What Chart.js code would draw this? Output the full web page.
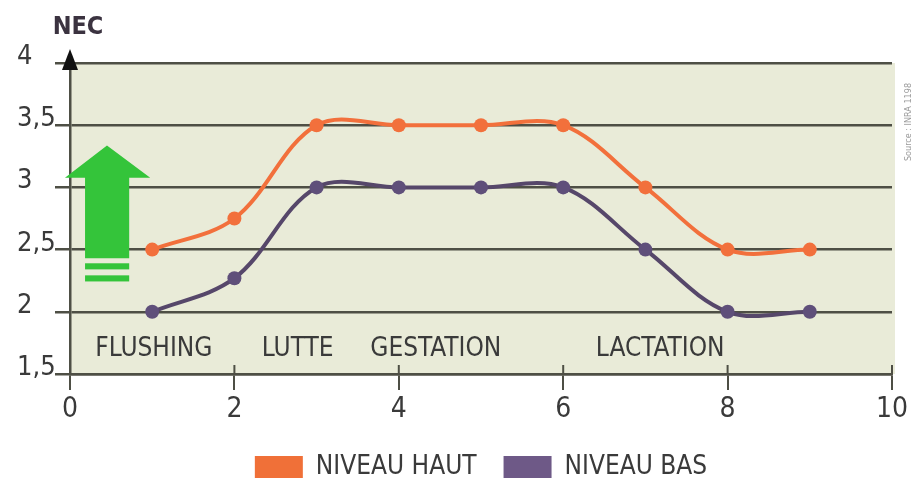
<!DOCTYPE html>
<html lang="fr">
<head>
<meta charset="UTF-8">
<title>NEC - niveau haut / niveau bas</title>
<script src="https://cdn.jsdelivr.net/npm/chart.js"></script>
<style>
  html, body { margin: 0; padding: 0; background: #fff; }
  #wrap { position: relative; width: 917px; height: 484px; }
</style>
</head>
<body>
<div id="wrap"><canvas id="necChart"></canvas></div>
<script>
// Données
const months = [1, 2, 3, 4, 5, 6, 7, 8, 9];
const niveauHaut = [2.5, 2.75, 3.5, 3.5, 3.5, 3.5, 3.0, 2.5, 2.5];
const niveauBas = [2.0, 2.27, 3.0, 3.0, 3.0, 3.0, 2.5, 2.0, 2.0];
const seriesLabels = ['NIVEAU HAUT', 'NIVEAU BAS'];
const yTicks = [1.5, 2, 2.5, 3, 3.5, 4];
const xTicks = [0, 2, 4, 6, 8, 10];
const phases = ['FLUSHING', 'LUTTE', 'GESTATION', 'LACTATION'];
const phaseX = [1.02, 2.77, 4.45, 7.18];
const phaseY = 1.70;

const FONT = "'Liberation Sans Narrow', 'DejaVu Sans Condensed', sans-serif";
const TEXT = '#3a3a3a';
const GRID = '#4e4f45';
const legendColors = ['#f07038', '#6e5987'];

// fond beige de la zone de tracé
const plotBg = {
    id: 'plotBg',
    beforeDraw(chart) {
        const { ctx, chartArea: a } = chart;
        ctx.save();
        ctx.fillStyle = '#e9ebd8';
        ctx.fillRect(a.left, a.top, a.right - a.left + 3, a.bottom - a.top);
        ctx.restore();
    }
};

// flèche verte + noms des phases
const decorations = {
    id: 'decorations',
    beforeDatasetsDraw(chart) {
        const { ctx, scales: { x, y } } = chart;
        ctx.save();
        ctx.fillStyle = '#34c43a';
        const sl = x.getPixelForValue(0.183), sr = x.getPixelForValue(0.72);
        const hl = x.getPixelForValue(-0.061), hr = x.getPixelForValue(0.976);
        const cx = x.getPixelForValue(0.45);
        ctx.beginPath();
        ctx.moveTo(cx, y.getPixelForValue(3.337));
        ctx.lineTo(hr, y.getPixelForValue(3.078));
        ctx.lineTo(sr, y.getPixelForValue(3.078));
        ctx.lineTo(sr, y.getPixelForValue(2.43));
        ctx.lineTo(sl, y.getPixelForValue(2.43));
        ctx.lineTo(sl, y.getPixelForValue(3.078));
        ctx.lineTo(hl, y.getPixelForValue(3.078));
        ctx.closePath();
        ctx.fill();
        [[2.39, 2.341], [2.293, 2.244]].forEach(([t, b]) => {
            const yt = y.getPixelForValue(t), yb = y.getPixelForValue(b);
            ctx.fillRect(sl, yt, sr - sl, yb - yt);
        });

        // petits traits des graduations X au-dessus de l'axe
        ctx.strokeStyle = GRID;
        ctx.lineWidth = 2;
        xTicks.slice(1).forEach(v => {
            const px = x.getPixelForValue(v);
            ctx.beginPath();
            ctx.moveTo(px, y.bottom - 9);
            ctx.lineTo(px, y.bottom);
            ctx.stroke();
        });

        ctx.fillStyle = TEXT;
        ctx.font = '26px ' + FONT;
        ctx.textAlign = 'center';
        ctx.textBaseline = 'middle';
        phases.forEach((p, i) => {
            ctx.fillText(p, x.getPixelForValue(phaseX[i]), y.getPixelForValue(phaseY));
        });
        ctx.restore();
    },
    afterDraw(chart) {
        const { ctx, chartArea: a } = chart;
        ctx.save();
        // pointe de flèche de l'axe Y
        ctx.fillStyle = '#111';
        ctx.beginPath();
        ctx.moveTo(a.left, a.top - 14);
        ctx.lineTo(a.left + 8, a.top + 7);
        ctx.lineTo(a.left - 8, a.top + 7);
        ctx.closePath();
        ctx.fill();
        // titre de l'axe
        ctx.fillStyle = '#3b3340';
        ctx.font = 'bold 25px ' + FONT;
        ctx.textAlign = 'center';
        ctx.textBaseline = 'middle';
        ctx.fillText('NEC', a.left + 8, 27);
        // source
        ctx.translate(909, 122);
        ctx.rotate(-Math.PI / 2);
        ctx.fillStyle = '#9a9a9a';
        ctx.font = '9px ' + FONT;
        ctx.fillText('Source : INRA 1198', 0, 0);
        ctx.restore();
    }
};

new Chart(document.getElementById('necChart'), {
    type: 'line',
    data: {
        datasets: [
            {
                label: seriesLabels[0],
                data: months.map((m, i) => ({ x: m, y: niveauHaut[i] })),
                borderColor: '#f2703c',
                backgroundColor: legendColors[0],
                borderWidth: 4,
                tension: 0.35,
                pointRadius: 7,
                pointBackgroundColor: '#f2703c',
                pointBorderWidth: 0,
                fill: false
            },
            {
                label: seriesLabels[1],
                data: months.map((m, i) => ({ x: m, y: niveauBas[i] })),
                borderColor: '#56476a',
                backgroundColor: legendColors[1],
                borderWidth: 4,
                tension: 0.35,
                pointRadius: 7,
                pointBackgroundColor: '#5f4f7a',
                pointBorderWidth: 0,
                fill: false
            }
        ]
    },
    options: {
        responsive: true,
        maintainAspectRatio: false,
        animation: false,
        layout: { padding: { left: 17, right: 25, top: 63, bottom: -6 } },
        scales: {
            x: {
                type: 'linear',
                min: xTicks[0],
                max: xTicks[xTicks.length - 1],
                afterBuildTicks: s => { s.ticks = xTicks.map(v => ({ value: v })); },
                afterFit: s => { s.height = 53; },
                grid: { drawOnChartArea: false, drawTicks: true, tickLength: 16, color: GRID, lineWidth: 2 },
                border: { display: true, color: GRID, width: 2.5 },
                ticks: { padding: 3, color: TEXT, font: { family: FONT, size: 28 } }
            },
            y: {
                min: yTicks[0],
                max: yTicks[yTicks.length - 1],
                afterBuildTicks: s => { s.ticks = yTicks.map(v => ({ value: v })); },
                afterFit: s => { s.width = 53; },
                grid: { color: GRID, lineWidth: 2.5, tickLength: 15 },
                border: { display: true, color: GRID, width: 2.5 },
                ticks: {
                    crossAlign: 'far',
                    autoSkip: false,
                    color: TEXT,
                    font: { family: FONT, size: 27, lineHeight: 0.45 },
                    callback: v => [String(v).replace('.', ','), '']
                }
            }
        },
        plugins: {
            tooltip: { enabled: false },
            legend: {
                position: 'bottom',
                fullSize: false,
                labels: {
                    color: TEXT,
                    font: { family: FONT, size: 26 },
                    boxWidth: 48,
                    boxHeight: 22,
                    padding: 27,
                    generateLabels: chart => Chart.defaults.plugins.legend.labels.generateLabels(chart)
                        .map(l => ({ ...l, lineWidth: 0, fillStyle: legendColors[l.datasetIndex] }))
                }
            }
        }
    },
    plugins: [plotBg, decorations]
});
</script>
</body>
</html>
